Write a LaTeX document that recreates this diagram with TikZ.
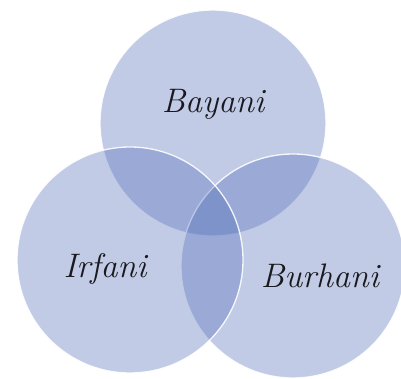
\documentclass[tikz,border=0pt]{standalone}
\usepackage{fontspec}
\definecolor{vennblue}{RGB}{79,106,184}
\definecolor{labelink}{RGB}{25,25,30}
\tikzset{
  venn/.style={circle, draw=white, line width=1.3pt, fill=vennblue, fill opacity=0.35, draw opacity=0.9, minimum size=#1, inner sep=0pt},
  vlabel/.style={anchor=base, text=labelink, font=\fontsize{34}{36}\selectfont\itshape, inner sep=0pt}
}
\begin{document}
\begin{tikzpicture}[x=1pt,y=-1pt]
\useasboundingbox (0,0) rectangle (401,379);
\node[venn=226pt] (top) at (213,123) {};
\node[venn=224pt] (right) at (293,266) {};
\node[venn=226pt] (left) at (130,260) {};
\node[vlabel] (bayani) at (213,113) {Bayani};
\node[vlabel] (irfani) at (105,277) {Irfani};
\node[vlabel] (burhani) at (320,287) {Burhani};
\end{tikzpicture}
\end{document}
